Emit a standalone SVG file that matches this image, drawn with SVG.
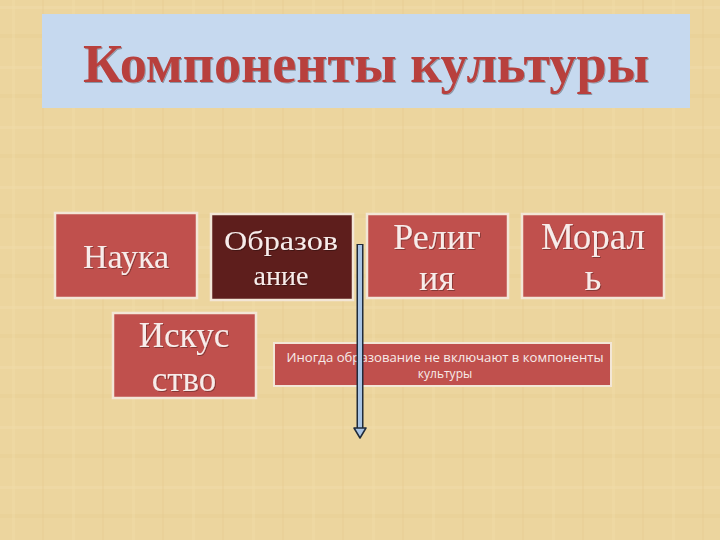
<svg xmlns="http://www.w3.org/2000/svg" width="720" height="540" viewBox="0 0 720 540">
<defs>
<pattern id="pap" width="60" height="60" patternUnits="userSpaceOnUse">
<rect width="60" height="60" fill="#ECD59E"/>
<rect x="0" y="6" width="60" height="3" fill="#F0DCAA" opacity="0.5"/>
<rect x="0" y="34" width="60" height="4" fill="#E6CC92" opacity="0.4"/>
<rect x="12" y="0" width="3" height="60" fill="#F0DCA8" opacity="0.4"/>
<rect x="42" y="0" width="2" height="60" fill="#E4C98E" opacity="0.35"/>
</pattern>
<filter id="sh" x="-5%" y="-5%" width="110%" height="120%">
<feDropShadow dx="1" dy="1" stdDeviation="0.6" flood-color="#000" flood-opacity="0.3"/>
</filter>
</defs>
<style>
.box{stroke:#F3E6D6;stroke-width:2.5}
.red{fill:#C0504D}
.dark{fill:#5E1E1C}
.t{font-family:"Liberation Serif","Times New Roman",serif;fill:#F7ECEA;text-anchor:middle}
.note{font-family:"Open Sans","Liberation Sans",sans-serif;font-size:12px;fill:#F7ECEA;text-anchor:middle}
</style>
<rect width="720" height="540" fill="url(#pap)"/>
<g id="title">
<rect x="42" y="14" width="648" height="94" fill="#C6D9EF"/>
<text x="366" y="82" font-family="Liberation Serif, serif" font-weight="bold" font-size="54" fill="#B8403D" text-anchor="middle" textLength="566" lengthAdjust="spacingAndGlyphs" filter="url(#sh)">Компоненты культуры</text>
</g>
<g id="nauka">
<rect class="box red" x="55" y="213" width="142" height="85"/>
<text class="t" x="126" y="268" font-size="34" filter="url(#sh)">Наука</text>
</g>
<g id="obrazovanie">
<rect class="box dark" x="211" y="214" width="142" height="86"/>
<text class="t" x="281" y="250" font-size="28" textLength="114" lengthAdjust="spacingAndGlyphs" filter="url(#sh)">Образов</text>
<text class="t" x="281" y="285" font-size="28" filter="url(#sh)">ание</text>
</g>
<g id="religiya">
<rect class="box red" x="367" y="214" width="141" height="84"/>
<text class="t" x="437" y="249" font-size="36" filter="url(#sh)">Религ</text>
<text class="t" x="437" y="290" font-size="36" filter="url(#sh)">ия</text>
</g>
<g id="moral">
<rect class="box red" x="522" y="214" width="142" height="84"/>
<text class="t" x="593" y="249" font-size="37" filter="url(#sh)">Морал</text>
<text class="t" x="593" y="290" font-size="37" filter="url(#sh)">ь</text>
</g>
<g id="iskusstvo">
<rect class="box red" x="113" y="313" width="143" height="85"/>
<text class="t" x="184" y="347" font-size="35" filter="url(#sh)">Искус</text>
<text class="t" x="184" y="391" font-size="35" filter="url(#sh)">ство</text>
</g>
<g id="note">
<rect x="274" y="343" width="337" height="43" fill="#C0504D" stroke="#F3E6D6" stroke-width="2"/>
<text class="note" x="445" y="362" textLength="317" lengthAdjust="spacingAndGlyphs">Иногда образование не включают в компоненты</text>
<text class="note" x="445" y="378">культуры</text>
</g>
<g id="connectors">
<line x1="360" y1="244" x2="360" y2="430" stroke="#1F2A3A" stroke-width="7"/>
<line x1="360" y1="245" x2="360" y2="430" stroke="#A9C4E4" stroke-width="4"/>
<path d="M354,428 L360,438 L366,428 Z" fill="#A9C4E4" stroke="#1F2A3A" stroke-width="1.5" stroke-linejoin="round"/>
</g>
</svg>
